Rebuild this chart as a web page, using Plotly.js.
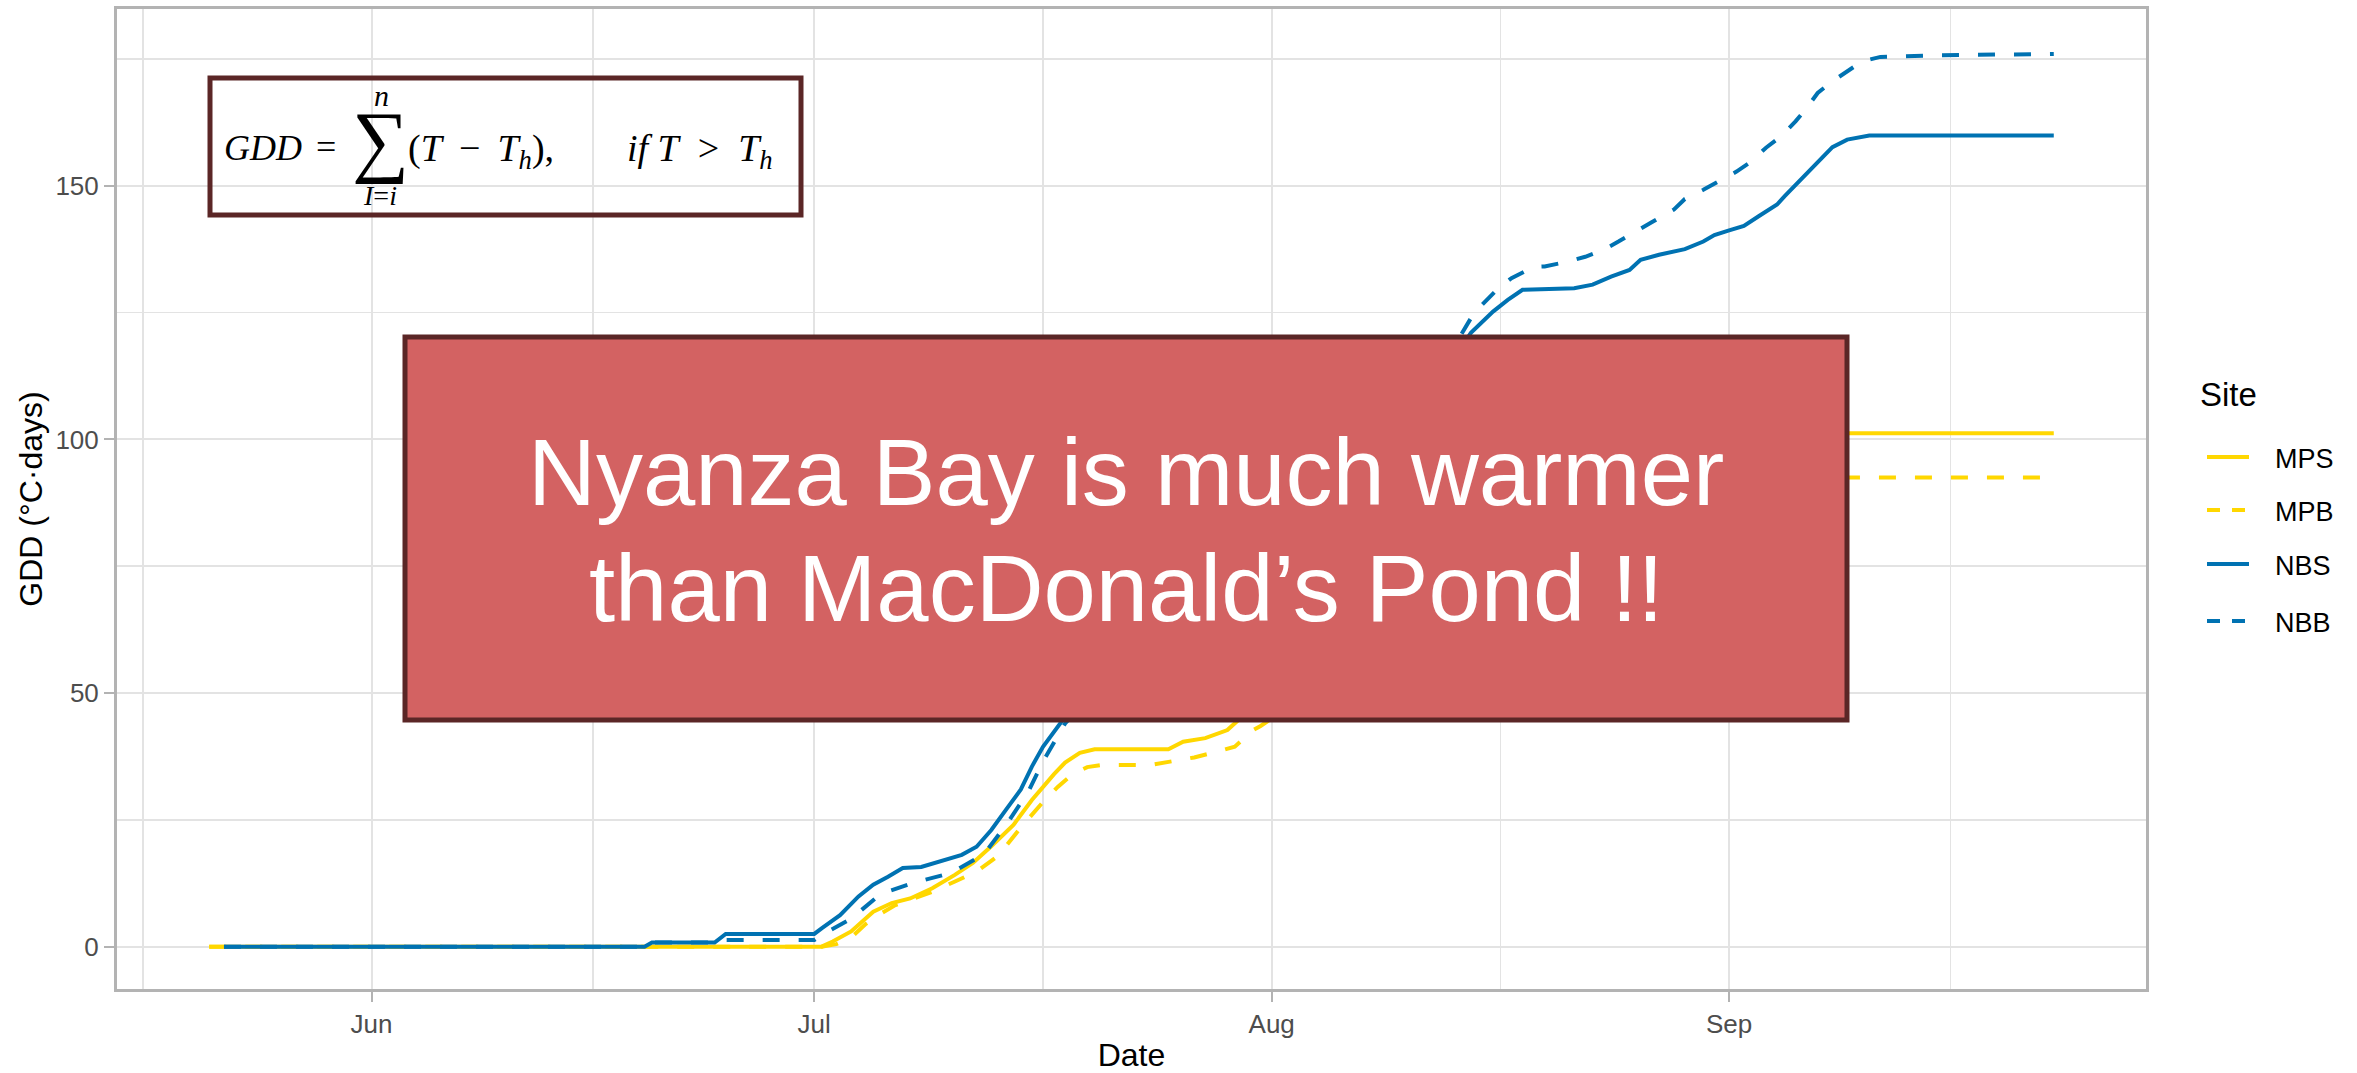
<!DOCTYPE html>
<html>
<head>
<meta charset="utf-8">
<script src="https://cdn.plot.ly/plotly-3.0.1.min.js"></script>
<style>
  html, body { margin: 0; padding: 0; background: #ffffff; }
  #chart { width: 2357px; height: 1073px; }
</style>
</head>
<body>
<div id="chart"></div>
<script>
// ---------------- DATA ----------------
const siteNames = ["MPS", "MPB", "NBS", "NBB"];

const mpsDates = ["2023-05-21 00:00","2023-07-01 12:00","2023-07-02 06:00","2023-07-03 12:00","2023-07-05 00:00","2023-07-06 06:00","2023-07-07 12:00","2023-07-09 00:00","2023-07-10 12:00","2023-07-11 18:00","2023-07-13 00:00","2023-07-14 12:00","2023-07-15 18:00","2023-07-16 12:00","2023-07-17 06:00","2023-07-18 00:00","2023-07-19 00:00","2023-07-20 00:00","2023-07-25 00:00","2023-07-26 00:00","2023-07-27 12:00","2023-07-29 00:00","2023-07-29 18:00","2023-07-31 00:00","2023-08-02 00:00","2023-08-04 00:00","2023-08-06 00:00","2023-08-08 00:00","2023-08-10 00:00","2023-08-12 00:00","2023-08-14 00:00","2023-08-16 00:00","2023-08-18 00:00","2023-08-20 00:00","2023-08-22 00:00","2023-08-24 00:00","2023-08-26 00:00","2023-08-28 00:00","2023-08-30 00:00","2023-09-01 00:00","2023-09-03 00:00","2023-09-05 00:00","2023-09-07 00:00","2023-09-08 12:00","2023-09-23 00:00"];
const mpsGDD   = [0,0,1,3,6.9,8.6,9.5,11.5,14.1,16.5,19.8,24,28.9,31.6,34,36.3,38.2,38.9,38.9,40.4,41.1,42.7,44.7,47,51,55,59,63,67,71,75,78,80,82,84.5,86.5,88.5,90.5,92.5,94,96.5,99,100.6,101.2,101.2];

const mpbDates = ["2023-05-21 00:00","2023-07-01 12:00","2023-07-02 12:00","2023-07-03 12:00","2023-07-04 12:00","2023-07-05 12:00","2023-07-06 12:00","2023-07-07 12:00","2023-07-09 00:00","2023-07-10 12:00","2023-07-12 00:00","2023-07-13 12:00","2023-07-15 00:00","2023-07-16 12:00","2023-07-17 12:00","2023-07-18 12:00","2023-07-19 12:00","2023-07-20 12:00","2023-07-23 18:00","2023-07-25 18:00","2023-07-26 18:00","2023-07-28 12:00","2023-07-29 12:00","2023-07-30 18:00","2023-07-31 06:00","2023-08-02 00:00","2023-08-04 00:00","2023-08-06 00:00","2023-08-08 00:00","2023-08-10 00:00","2023-08-12 00:00","2023-08-14 00:00","2023-08-16 00:00","2023-08-18 00:00","2023-08-20 00:00","2023-08-22 00:00","2023-08-24 00:00","2023-08-26 00:00","2023-08-28 00:00","2023-08-30 00:00","2023-09-01 00:00","2023-09-03 00:00","2023-09-05 00:00","2023-09-07 00:00","2023-09-08 12:00","2023-09-23 00:00"];
const mpbGDD   = [0,0,0.5,1.8,4.5,6.5,8.2,9.2,10.8,12.8,14.8,18,23.5,28.5,31.5,34,35.4,35.8,35.8,36.8,37.3,38.6,39.4,42.7,43.5,47,51,55,59,62.5,66,69.5,72,74,76,78,80,82,84,86,87.5,89.5,91.5,92.3,92.5,92.5];

const nbsDates = ["2023-05-22 00:00","2023-06-19 12:00","2023-06-20 00:00","2023-06-24 06:00","2023-06-25 00:00","2023-07-01 00:00","2023-07-01 12:00","2023-07-02 18:00","2023-07-04 00:00","2023-07-05 00:00","2023-07-06 00:00","2023-07-07 00:00","2023-07-08 06:00","2023-07-09 12:00","2023-07-11 00:00","2023-07-12 00:00","2023-07-13 00:00","2023-07-14 00:00","2023-07-15 00:00","2023-07-15 18:00","2023-07-16 12:00","2023-07-18 00:00","2023-07-19 00:00","2023-07-20 00:00","2023-07-22 00:00","2023-07-24 00:00","2023-07-26 00:00","2023-07-28 00:00","2023-07-30 00:00","2023-08-01 00:00","2023-08-03 00:00","2023-08-05 00:00","2023-08-07 00:00","2023-08-09 00:00","2023-08-11 00:00","2023-08-13 00:00","2023-08-14 12:00","2023-08-16 00:00","2023-08-17 00:00","2023-08-18 00:00","2023-08-21 12:00","2023-08-22 18:00","2023-08-24 00:00","2023-08-25 06:00","2023-08-26 00:00","2023-08-27 06:00","2023-08-29 00:00","2023-08-30 06:00","2023-08-31 00:00","2023-09-01 00:00","2023-09-02 00:00","2023-09-03 00:00","2023-09-04 06:00","2023-09-04 18:00","2023-09-05 18:00","2023-09-07 00:00","2023-09-08 00:00","2023-09-09 00:00","2023-09-10 12:00","2023-09-23 00:00"];
const nbsGDD   = [0,0,0.8,0.8,2.5,2.5,3.6,6.2,9.9,12.2,13.8,15.5,15.7,16.8,18.1,19.7,23,27,31,35.5,39.4,45.3,48.5,50,51,52.5,55,58,62,67,73,80,88,97,106,114.5,121,125.2,127.5,129.5,129.8,130.5,132.1,133.4,135.4,136.4,137.5,139,140.3,141.2,142.1,144,146.3,147.9,150.9,154.5,157.6,159.1,159.9,159.9];

const nbbDates = ["2023-05-22 00:00","2023-06-19 12:00","2023-06-20 00:00","2023-06-24 06:00","2023-06-25 00:00","2023-07-01 00:00","2023-07-01 12:00","2023-07-03 12:00","2023-07-05 12:00","2023-07-07 18:00","2023-07-10 06:00","2023-07-12 12:00","2023-07-14 00:00","2023-07-15 12:00","2023-07-16 12:00","2023-07-18 00:00","2023-07-19 00:00","2023-07-21 00:00","2023-07-23 00:00","2023-07-25 00:00","2023-07-27 00:00","2023-07-29 00:00","2023-07-31 00:00","2023-08-02 00:00","2023-08-04 00:00","2023-08-06 00:00","2023-08-08 00:00","2023-08-10 00:00","2023-08-12 00:00","2023-08-13 12:00","2023-08-14 12:00","2023-08-15 06:00","2023-08-16 06:00","2023-08-17 06:00","2023-08-18 18:00","2023-08-19 12:00","2023-08-21 00:00","2023-08-22 06:00","2023-08-23 12:00","2023-08-24 12:00","2023-08-25 18:00","2023-08-26 18:00","2023-08-28 06:00","2023-08-29 00:00","2023-08-30 06:00","2023-08-31 06:00","2023-09-01 12:00","2023-09-02 12:00","2023-09-03 12:00","2023-09-04 12:00","2023-09-05 12:00","2023-09-06 06:00","2023-09-07 00:00","2023-09-08 00:00","2023-09-09 00:00","2023-09-10 00:00","2023-09-11 06:00","2023-09-14 18:00","2023-09-23 00:00"];
const nbbGDD   = [0,0,0.8,0.8,1.3,1.3,2.3,5.5,10.4,12.6,14.5,18.2,24,30.5,36.5,44,47,49,50.5,52.5,56,60,65,71,78,86,95,104,113,119,123.9,126.5,129.5,131.8,134,134.1,135,136,137.4,139,141,142.8,145.3,147.4,149.2,150.9,152.8,154.8,157.5,159.7,162.7,165.3,168.3,170.6,172.5,174.5,175.4,175.7,176];

const xTickVals  = ["2023-06-01","2023-07-01","2023-08-01","2023-09-01"];
const xTickText  = ["Jun","Jul","Aug","Sep"];
const xMinorVals = ["2023-05-16 12:00","2023-06-16 00:00","2023-07-16 12:00","2023-08-16 12:00","2023-09-16 00:00"];
const xRange     = ["2023-05-14 18:00","2023-09-29 06:00"];
const yTickVals  = [0, 50, 100, 150];
const yMinorVals = [25, 75, 125, 175];
const yRange     = [-8.35, 184.85];

const calloutLines = ["Nyanza Bay is much warmer", "than MacDonald\u2019s Pond !!"];
const legendTitle  = "Site";

// ---------------- STYLE ----------------
const gold = "#FFD700";
const blue = "#0072B2";
const dashChart  = "17px,19px";
const dashLegend = "13px,12px";
const seriesStyle = [
  {color: gold, dash: "solid"},
  {color: gold, dash: dashChart},
  {color: blue, dash: "solid"},
  {color: blue, dash: dashChart}
];
const legendDash = ["solid", dashLegend, "solid", dashLegend];

const W = 2357, H = 1073;
const PL = 117, PR = 2146, PT = 9, PB = 989;
function px(x) { return (x - PL) / (PR - PL); }
function py(y) { return (PB - y) / (PB - PT); }

const seriesDates = [mpsDates, mpbDates, nbsDates, nbbDates];
const seriesVals  = [mpsGDD, mpbGDD, nbsGDD, nbbGDD];

const traces = siteNames.map((name, i) => ({
  type: "scatter",
  mode: "lines",
  name: name,
  x: seriesDates[i],
  y: seriesVals[i],
  line: {color: seriesStyle[i].color, width: 4, dash: seriesStyle[i].dash, shape: "linear"},
  showlegend: false,
  hoverinfo: "x+y+name"
}));

const gridColor = "#e3e3e3";
const borderColor = "#b3b3b3";
const font = "Liberation Sans, Arial, sans-serif";
const serif = "Liberation Serif, Times New Roman, serif";

const shapes = [
  // formula box (transparent)
  {type: "rect", xref: "paper", yref: "paper", x0: px(210), x1: px(801), y0: py(215), y1: py(78),
   fillcolor: "rgba(0,0,0,0)", line: {color: "#5b2626", width: 5}, layer: "above"},
  // call-out box
  {type: "rect", xref: "paper", yref: "paper", x0: px(405), x1: px(1847), y0: py(720), y1: py(337),
   fillcolor: "#d36262", line: {color: "#5b2626", width: 5}, layer: "above"}
];

const legendRowsY = [457, 510, 564, 621];
siteNames.forEach((name, i) => {
  shapes.push({type: "line", xref: "paper", yref: "paper",
    x0: px(2207), x1: px(2249), y0: py(legendRowsY[i]), y1: py(legendRowsY[i]),
    line: {color: seriesStyle[i].color, width: 4, dash: legendDash[i]}, layer: "above"});
});

function note(x, y, text, size, family, color, xanchor) {
  return {xref: "paper", yref: "paper", x: px(x), y: py(y), xanchor: xanchor || "left", yanchor: "middle",
          showarrow: false, text: text, font: {family: family, size: size, color: color}};
}

const annotations = [
  // formula pieces
  note(222, 148, "<i>GDD</i>", 36, serif, "#000"),
  note(326, 147, "=", 36, serif, "#000", "center"),
  note(380, 141, "\u2211", 80, serif, "#000", "center"),
  note(381, 95, "<i>n</i>", 30, serif, "#000", "center"),
  note(380, 196, "<i>I</i>=<i>i</i>", 28, serif, "#000", "center"),
  note(406, 151, "(<i>T</i>\u2009 \u2212 \u2009<i>T<sub>h</sub></i>),", 38, serif, "#000"),
  note(625, 151, "<i>if T</i>\u00a0 > \u00a0<i>T<sub>h</sub></i>", 38, serif, "#000"),
  // call-out text
  note(1126, 472, calloutLines[0], 94, font, "#ffffff", "center"),
  note(1126, 588, calloutLines[1], 94, font, "#ffffff", "center"),
  // legend title
  note(2198, 394, legendTitle, 33, font, "#000")
];
siteNames.forEach((name, i) => {
  annotations.push(note(2273, legendRowsY[i] + 2, name, 27, font, "#000"));
});

const layout = {
  width: W, height: H,
  margin: {l: PL, r: W - PR, t: PT, b: H - PB, pad: 0},
  paper_bgcolor: "#ffffff",
  plot_bgcolor: "#ffffff",
  showlegend: false,
  font: {family: font, color: "#000"},
  xaxis: {
    type: "date",
    range: xRange,
    tickmode: "array", tickvals: xTickVals, ticktext: xTickText,
    tickfont: {family: font, size: 26, color: "#4d4d4d"},
    ticks: "outside", ticklen: 10, tickwidth: 2, tickcolor: borderColor,
    showgrid: true, gridcolor: gridColor, gridwidth: 2,
    minor: {tickmode: "array", tickvals: xMinorVals, showgrid: true, gridcolor: gridColor, gridwidth: 1.6, ticks: ""},
    showline: true, mirror: true, linecolor: borderColor, linewidth: 3,
    zeroline: false,
    automargin: false,
    title: {text: "Date", font: {family: font, size: 32, color: "#000"}, standoff: 14}
  },
  yaxis: {
    range: yRange,
    tickmode: "array", tickvals: yTickVals,
    tickfont: {family: font, size: 26, color: "#4d4d4d"},
    ticks: "outside", ticklen: 10, tickwidth: 2, tickcolor: borderColor,
    showgrid: true, gridcolor: gridColor, gridwidth: 2,
    minor: {tickmode: "array", tickvals: yMinorVals, showgrid: true, gridcolor: gridColor, gridwidth: 1.6, ticks: ""},
    showline: true, mirror: true, linecolor: borderColor, linewidth: 3,
    zeroline: false,
    automargin: false,
    title: {text: "GDD (\u00b0C\u00b7days)", font: {family: font, size: 32, color: "#000"}, standoff: 4}
  },
  shapes: shapes,
  annotations: annotations
};

Plotly.newPlot("chart", traces, layout, {displayModeBar: false, staticPlot: true});
</script>
</body>
</html>
